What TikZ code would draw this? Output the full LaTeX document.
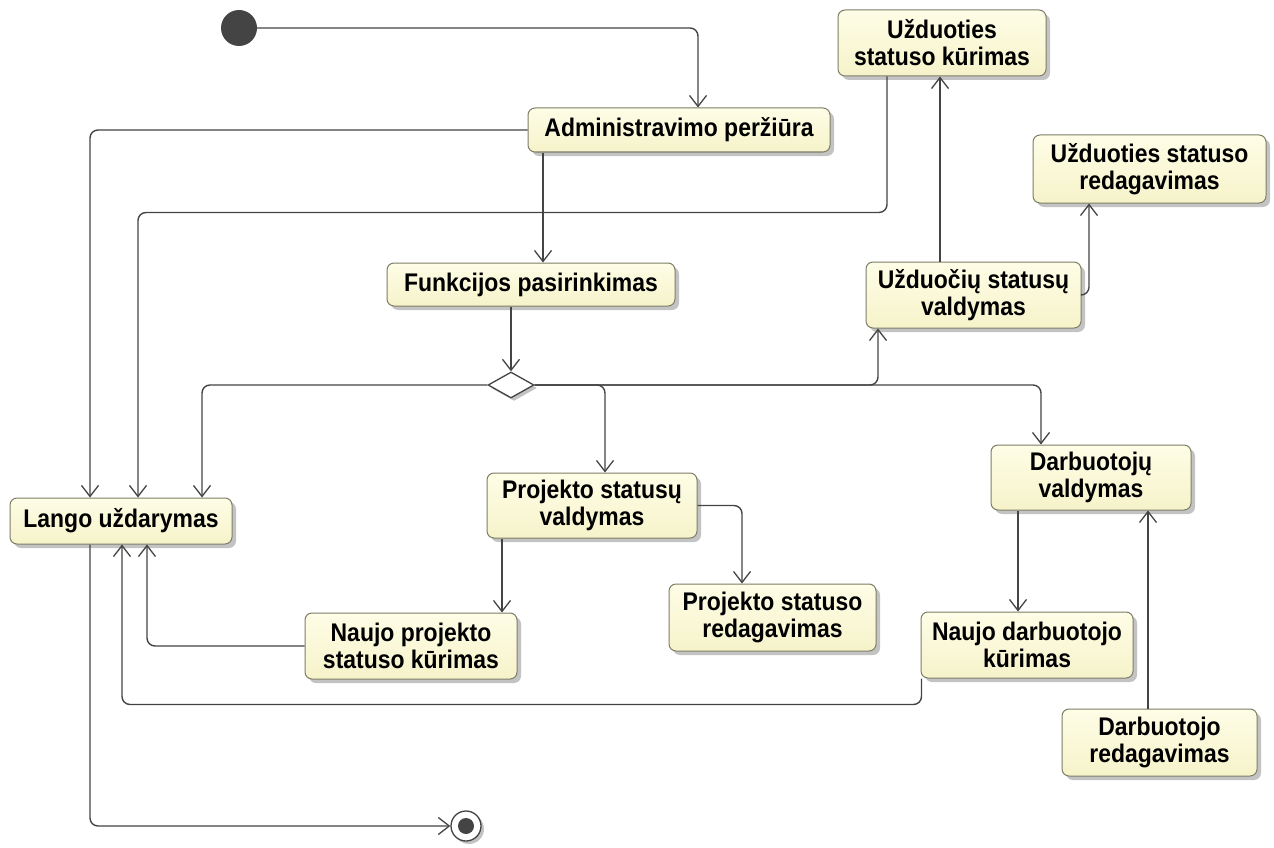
\documentclass[tikz,border=0pt]{standalone}
\usepackage{fontspec}
\setmainfont{Liberation Sans}
\newfontfamily\boxfont[FakeStretch=0.9]{Liberation Sans}
\usetikzlibrary{arrows.meta,shapes.geometric,shadows}
\definecolor{boxfill}{HTML}{FEFDE6}
\definecolor{boxfilldark}{HTML}{F6F3CA}
\definecolor{boxline}{HTML}{7E7E68}
\definecolor{flow}{HTML}{444444}
\definecolor{shade}{HTML}{B4B4B4}
\tikzset{
  act/.style={draw=boxline, line width=1pt, rounded corners=7pt,
    top color=boxfill, bottom color=boxfilldark,
    drop shadow={shadow xshift=4pt, shadow yshift=-4pt, fill=shade, opacity=0.8},
    align=center, inner sep=0pt,
    font=\boxfont\bfseries\fontsize{25.5}{27}\selectfont},
  flowline/.style={draw=flow, line width=1.4pt, rounded corners=8pt,
    -{Straight Barb[length=11pt,width=17pt,line width=1.3pt]}},
}
\begin{document}
\begin{tikzpicture}[x=1pt,y=-1pt]
\useasboundingbox (0,0) rectangle (1274,848);

% start and end markers
\node (init) [circle, fill=flow, minimum size=36pt, inner sep=0pt] at (239,28) {};
\node (final) [circle, draw=flow, line width=1.3pt, fill=white, minimum size=30pt, inner sep=0pt,
  drop shadow={shadow xshift=3pt, shadow yshift=-3pt, fill=shade, opacity=0.8}] at (466,826) {};
\node (finaldot) [circle, fill=flow, minimum size=16pt, inner sep=0pt] at (final.center) {};

% activities
\node (admin) [act, minimum width=302pt, minimum height=44pt] at (679,130) {Administravimo peržiūra};
\node (uskur) [act, minimum width=208pt, minimum height=66pt] at (942,43) {Užduoties\\statuso kūrimas};
\node (usred) [act, minimum width=233pt, minimum height=68pt] at (1149.5,169) {Užduoties statuso\\redagavimas};
\node (funk)  [act, minimum width=288pt, minimum height=43pt] at (531,284.5) {Funkcijos pasirinkimas};
\node (uval)  [act, minimum width=215pt, minimum height=66pt] at (973.5,295) {Užduočių statusų\\valdymas};
\node (lango) [act, minimum width=222pt, minimum height=46pt] at (121,521) {Lango uždarymas};
\node (psval) [act, minimum width=210pt, minimum height=65pt] at (592,505.5) {Projekto statusų\\valdymas};
\node (dval)  [act, minimum width=200pt, minimum height=65pt] at (1091,477.5) {Darbuotojų\\valdymas};
\node (psred) [act, minimum width=207pt, minimum height=67pt] at (772.5,617.5) {Projekto statuso\\redagavimas};
\node (npk)   [act, minimum width=212pt, minimum height=66pt] at (411,646) {Naujo projekto\\statuso kūrimas};
\node (ndk)   [act, minimum width=212pt, minimum height=66pt] at (1027,645) {Naujo darbuotojo\\kūrimas};
\node (dred)  [act, minimum width=195pt, minimum height=67pt] at (1159.5,742.5) {Darbuotojo\\redagavimas};

% decision
\node (dia) [diamond, draw=flow, line width=1.3pt, fill=white, minimum width=46pt, minimum height=26pt,
  inner sep=0pt, aspect=1.8,
  drop shadow={shadow xshift=3pt, shadow yshift=-3pt, fill=shade, opacity=0.8}] at (511,385) {};

% anchor points on vertical runs
\coordinate (a3) at ([xshift=-136pt]admin.south);
\coordinate (c8) at ([xshift=-33.5pt]uval.north);
\coordinate (c11) at ([xshift=-90pt]psval.south);
\coordinate (c14) at ([xshift=-73pt]dval.south);
\coordinate (c15) at ([xshift=-11.5pt]dred.north);

% flows
\draw[flowline] (init.east) -| ([xshift=19pt]admin.north);
\draw[flowline] (admin.west) -| ([xshift=-31pt]lango.north);
\draw[flowline] (a3) -- (a3 |- funk.north);
\draw[flowline] ([xshift=-55pt]uskur.south) -- ++(0,136) -| ([xshift=17pt]lango.north);
\draw[flowline] (dia.north |- funk.south) -- (dia.north);
\draw[flowline] (dia.west) -| ([xshift=81pt]lango.north);
\draw[flowline] (dia.east) -| ([xshift=13pt]psval.north);
\draw[flowline] (dia.east) -| ([xshift=-95.5pt]uval.south);
\draw[flowline] (dia.east) -| ([xshift=-50pt]dval.north);
\draw[flowline] (c8) -- (c8 |- uskur.south);
\draw[flowline] (uval.east) -| ([xshift=-60.5pt]usred.south);
\draw[flowline] (psval.east) -| ([xshift=-30.5pt]psred.north);
\draw[flowline] (c11) -- (c11 |- npk.north);
\draw[flowline] (npk.west) -| ([xshift=26pt]lango.south);
\draw[flowline] ([xshift=1pt]ndk.south west) -- ++(0,26) -| ([xshift=1pt]lango.south);
\draw[flowline] (c14) -- (c14 |- ndk.north);
\draw[flowline] (c15) -- (c15 |- dval.south);
\draw[flowline] ([xshift=-31pt]lango.south) |- (final.west);
\end{tikzpicture}
\end{document}
